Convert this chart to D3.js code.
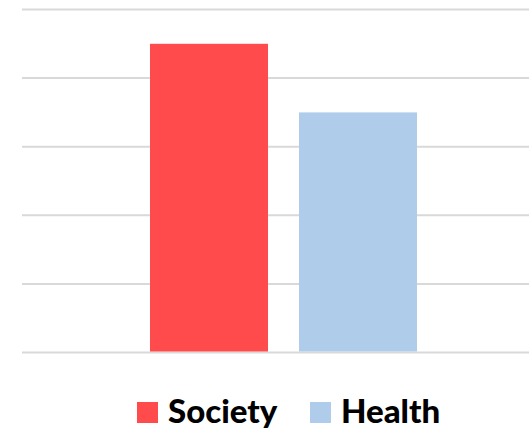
<!DOCTYPE html>
<html><head><meta charset="utf-8">
<script src="https://cdn.jsdelivr.net/npm/d3@7"></script>
<style>html,body{margin:0;padding:0;background:#fff;}svg{display:block;}</style>
</head><body>
<svg id="chart" width="529" height="432"></svg>
<script>
const categories = ["Society", "Health"];
const values = [4.5, 3.5];
const colors = ["#FF4B4B", "#AFCDEB"];
const yTicks = [0, 1, 2, 3, 4, 5];

const svg = d3.select("#chart");
const plot = {left: 22, right: 529, top: 9.5, bottom: 352.5};

const y = d3.scaleLinear().domain([0, 5]).range([plot.bottom, plot.top]);
const bw = 118;
const xb = d3.scalePoint().domain(categories).range([209, 358]);

// gridlines
svg.append("g").selectAll("line").data(yTicks).join("line")
  .attr("x1", plot.left).attr("x2", plot.right)
  .attr("y1", d => y(d)).attr("y2", d => y(d))
  .attr("stroke", "#D9D9D9").attr("stroke-width", 2);

// bars
svg.append("g").selectAll("rect").data(categories).join("rect")
  .attr("x", d => xb(d) - bw / 2)
  .attr("width", bw)
  .attr("y", (d, i) => y(values[i]))
  .attr("height", (d, i) => y(0) - y(values[i]) - 1)
  .attr("fill", (d, i) => colors[i]);

// legend
const lg = svg.append("g");
const legendX = [137, 310];
categories.forEach((c, i) => {
  const g = lg.append("g").attr("transform", `translate(${legendX[i]},0)`);
  g.append("rect").attr("x", 0).attr("y", 402).attr("width", 21).attr("height", 21).attr("fill", colors[i]);
  g.append("text").attr("x", 31).attr("y", 423)
    .attr("font-family", "Lato, 'Open Sans', sans-serif")
    .attr("font-weight", "900").attr("font-size", 33)
    .attr("fill", "#000").text(c);
});
</script>
</body></html>
